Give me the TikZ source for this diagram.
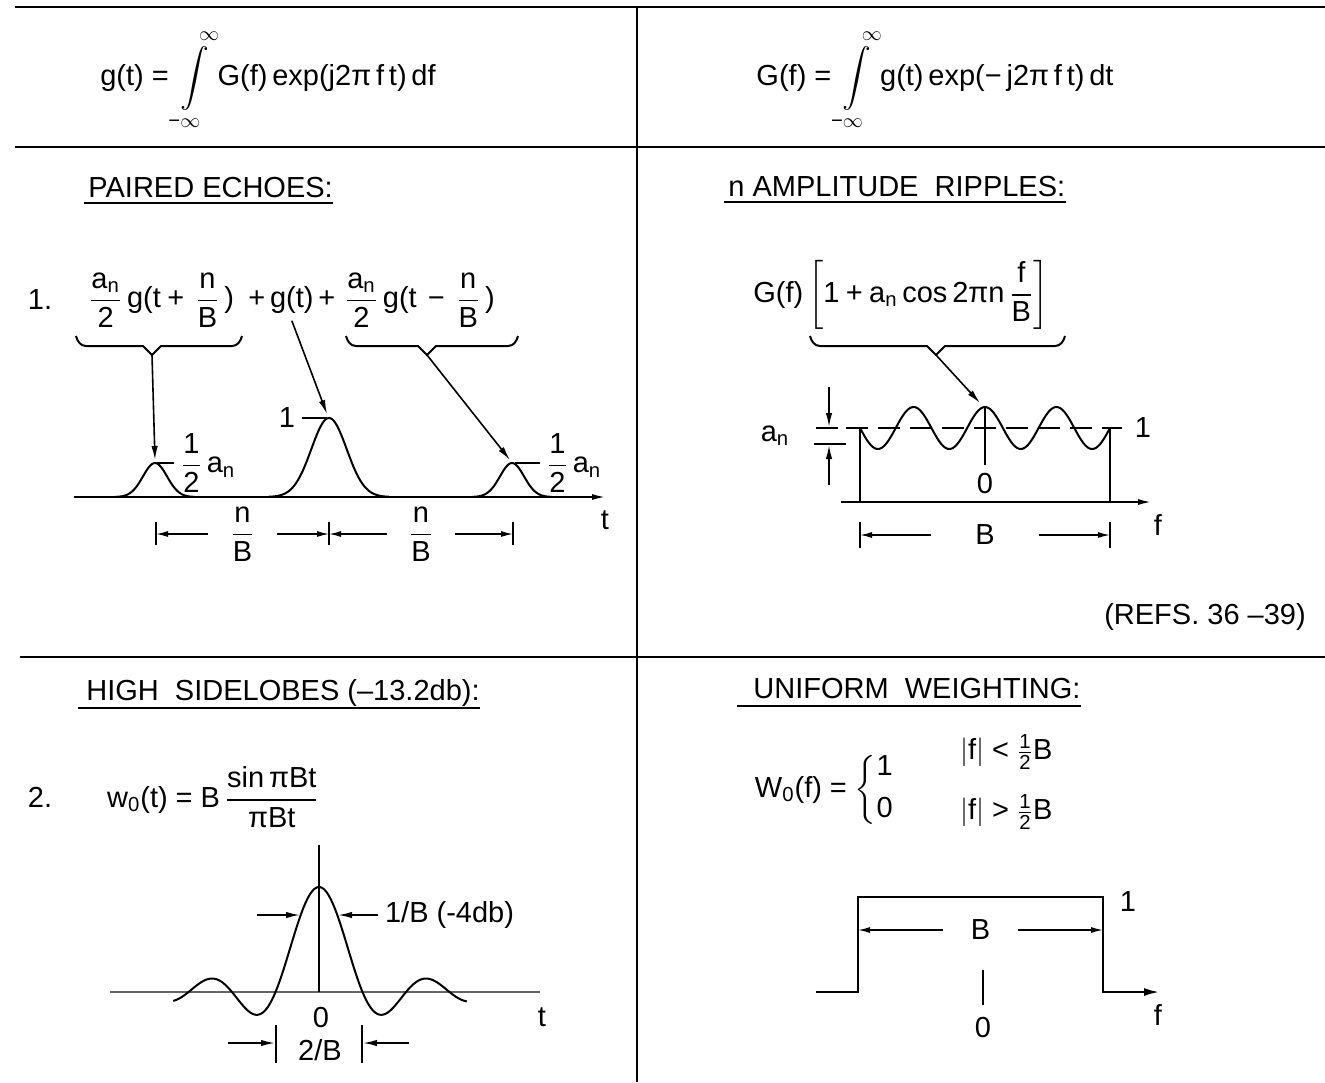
\documentclass[tikz,border=0pt]{standalone}
\usepackage{amsmath}
\usepackage[no-math]{fontspec}
\setmainfont{Liberation Sans}
% math letters, digits and signs in the sans text font
\DeclareSymbolFont{letters}{TU}{\rmdefault}{m}{n}
\DeclareSymbolFont{operators}{TU}{\rmdefault}{m}{n}
\Umathcode`-="2 "1 "2212
\usetikzlibrary{arrows.meta,positioning}
\newcommand{\ppi}{\text{π}}
\tikzset{
  rule/.style={line width=1.3pt},
  trace/.style={line width=1pt},
  fine/.style={line width=0.7pt},
  pointer/.style={line width=0.8pt,-{Latex[length=7pt,width=3.2pt]}},
  dimline/.style={line width=0.7pt,{Latex[length=6pt,width=3pt]}-{Latex[length=6pt,width=3pt]}},
  heading/.style={anchor=base west,inner sep=0pt},
  cutout/.style={fill=white,inner ysep=1pt,inner xsep=11pt},
}
\begin{document}
\begin{tikzpicture}[x=0.5pt,y=-0.5pt,font=\fontsize{14.5}{17}\selectfont]
\useasboundingbox (0,0) rectangle (1325,1082);

% frame
\draw[rule] (15,7) -- (1325,7);
\draw[rule] (15,147) -- (1325,147);
\draw[rule] (20,657) -- (1325,657);
\draw[rule] (637,7) -- (637,1082);

% transform pair
\node (inverse) at (268,80) {$g(t)=\displaystyle\int\limits_{\hspace{-4pt}-\infty}^{\hspace{8pt}\infty}G(f)\,exp(j2\ppi\,f\,t)\,df$};
\node (forward) at (935,80) {$G(f)=\displaystyle\int\limits_{\hspace{-4pt}-\infty}^{\hspace{8pt}\infty}g(t)\,exp(-\,j2\ppi\,f\,t)\,dt$};

% ---- paired echoes
\node[heading] (echo) at (88,197) {PAIRED\ ECHOES:};
\draw[rule] ([xshift=-2pt,yshift=-3pt]echo.base west) -- ([yshift=-3pt]echo.base east);
\node (num1) at (40,300) {1.};
\node[anchor=west] (lead) at (82,300) {$\dfrac{a_n}{2}\,g(t+\,\dfrac{n}{B}\,)$};
\node[anchor=base west,inner xsep=1pt] (mid) at (lead.base east) {$\,+\,g(t)\,+\,$};
\node[anchor=base west,inner xsep=1pt] (lag) at (mid.base east) {$\dfrac{a_n}{2}\,g(t\,-\,\dfrac{n}{B}\,)$};

% braces
\draw[trace] (76,336) to[out=-75,in=180] (86,346) -- (143,346) -- (152,355) -- (161,346) -- (232,346) to[out=0,in=-105] (242,336);
\draw[trace] (346,336) to[out=-75,in=180] (356,346) -- (418,346) -- (427,355) -- (436,346) -- (508,346) to[out=0,in=-105] (518,336);
\coordinate (ltip) at (152,355);
\coordinate (rtip) at (427,355);

% echoes
\coordinate (lpeak) at (155,460);
\coordinate (cpeak) at (327,414);
\coordinate (rpeak) at (510,460);
\draw[trace,-{Latex[length=7pt,width=3pt]}] (74,497) -- (606,497);
\draw[trace] plot[domain=-40:40,samples=60] ({155+\x},{497-34*exp(-(\x/17)*(\x/17))});
\draw[trace] plot[domain=-60:60,samples=90] ({329+\x},{497-79*exp(-(\x/25)*(\x/25))});
\draw[trace] plot[domain=-40:40,samples=60] ({512+\x},{497-34*exp(-(\x/17)*(\x/17))});
\draw[pointer] (ltip) -- (lpeak);
\draw[pointer] (mid.south) -- (cpeak);
\draw[pointer] (rtip) -- (rpeak);

\coordinate (ltick) at (174,463);
\coordinate (ctick) at (302,418);
\coordinate (rtick) at (540,463);
\draw[fine] (157,463) -- (ltick);
\draw[fine] (ctick) -- (327,418);
\draw[fine] (515,463) -- (rtick);
\node[right=0pt of ltick] (lamp) {$\dfrac{1}{2}\,a_n$};
\node[left=0pt of ctick] (unit) {1};
\node[right=0pt of rtick] (ramp) {$\dfrac{1}{2}\,a_n$};
\node (taxis) at (605,520) {t};

% spacing
\draw[fine] (156,522) -- (156,545);
\draw[fine] (329,522) -- (329,545);
\draw[fine] (513,522) -- (513,545);
\coordinate (d0) at (156,534);
\coordinate (d1) at (329,534);
\coordinate (d2) at (513,534);
\draw[dimline] (d0) -- node[cutout] (spanl) {$\dfrac{n}{B}$} (d1);
\draw[dimline] (d1) -- node[cutout] (spanr) {$\dfrac{n}{B}$} (d2);

% ---- amplitude ripples
\node[heading] (ripple) at (728,196) {n AMPLITUDE\ \ RIPPLES:};
\draw[rule] ([xshift=-2pt,yshift=-3pt]ripple.base west) -- ([yshift=-3pt]ripple.base east);
\node (gmod) at (901,295) {$G(f)\left[1+a_n\cos 2\ppi n\,\dfrac{f}{B}\right]$};
\draw[trace] (810,336) to[out=-75,in=180] (820,346) -- (927,346) -- (936,355) -- (945,346) -- (1055,346) to[out=0,in=-105] (1065,336);
\coordinate (mtip) at (936,355);
\coordinate (mpeak) at (980,403);

\draw[line width=1.2pt,dash pattern=on 11pt off 5pt] (846,428) -- (1122,428);
\node (level) at (1143,428) {1};
\draw[trace] plot[domain=-125:125,samples=160] ({985+\x},{428-21*cos(5.04*(\x))});
\draw[fine] (860,428) -- (860,502);
\draw[fine] (1110,428) -- (1110,502);
\draw[fine] (985,407) -- (985,465);
\draw[trace,-{Latex[length=7pt,width=3pt]}] (841,502) -- (1152,502);
\draw[pointer] (mtip) -- (mpeak);
\node (zero1) at (985,484) {0};
\node (faxis1) at (1158,525) {f};

% ripple depth
\draw[pointer] (829,387) -- (829,427);
\draw[fine] (816,428) -- (838,428);
\draw[fine] (814,444) -- (846,444);
\draw[pointer] (829,485) -- (829,445);
\node (depth) at (775,436) {$a_n$};

\draw[fine] (860,522) -- (860,548);
\draw[fine] (1110,522) -- (1110,548);
\coordinate (b0) at (860,535);
\coordinate (b1) at (1110,535);
\draw[dimline] (b0) -- node[cutout,inner xsep=22pt] (bw1) {$B$} (b1);

\node (refs) at (1205,617) {(REFS. 36 --39)};

% ---- high sidelobes
\node[heading] (lobes) at (86,700) {HIGH\ \ SIDELOBES (--13.2db):};
\draw[rule] ([xshift=-4pt,yshift=-4pt]lobes.base west) -- ([yshift=-4pt]lobes.base east);
\node (num2) at (40,797) {2.};
\node (wdef) at (213,797) {$w_0(t)=B\,\dfrac{\sin\ppi Bt}{\ppi Bt}$};

\draw[black!60,line width=0.8pt] (110,992) -- (540,992);
\draw[fine] (319,845) -- (319,992);
\draw[trace] plot[domain=-3.35:3.4,samples=200] ({319+43.5*\x},{992-105*sin(180*(\x))/(pi*(\x))});
\node (zero2) at (321,1017) {0};
\node (taxis2) at (542,1017) {t};

\node[anchor=west] (wlab) at (378,915) {1/B (-4db)};
\coordinate (wtail) at (257,915);
\draw[pointer] (wtail) -- (300,915);
\draw[pointer] (wlab.west) -- (338,915);

\draw[fine] (276,1025) -- (276,1063);
\draw[fine] (362,1025) -- (362,1063);
\coordinate (zl) at (228,1043);
\coordinate (zr) at (409,1043);
\draw[pointer] (zl) -- (275,1043);
\draw[pointer] (zr) -- (363,1043);
\node (mainw) at (320,1050) {2/B};

% ---- uniform weighting
\node[heading] (uni) at (753,698) {UNIFORM\ \ WEIGHTING:};
\draw[rule] ([xshift=-8pt,yshift=-4pt]uni.base west) -- ([yshift=-4pt]uni.base east);
\node (wfun) at (825,790) {$W_0(f)=\left\{\begin{array}{@{}l@{}}1\\[4pt] 0\end{array}\right.$};
\node[anchor=west] (inband) at (953,752) {$|f|<\tfrac{1}{2}B$};
\node[anchor=west] (outband) at (953,812) {$|f|>\tfrac{1}{2}B$};

\draw[rule,-{Latex[length=8pt,width=4pt]}] (816,992) -- (858,992) -- (858,897) -- (1103,897) -- (1103,992) -- (1160,992);
\node (level2) at (1128,902) {1};
\node (faxis2) at (1158,1015) {f};
\coordinate (u0) at (858,930);
\coordinate (u1) at (1103,930);
\draw[dimline] (u0) -- node[cutout,inner xsep=14pt] (bw2) {$B$} (u1);
\draw[fine] (983,970) -- (983,1005);
\node (zero3) at (983,1027) {0};
\end{tikzpicture}
\end{document}
